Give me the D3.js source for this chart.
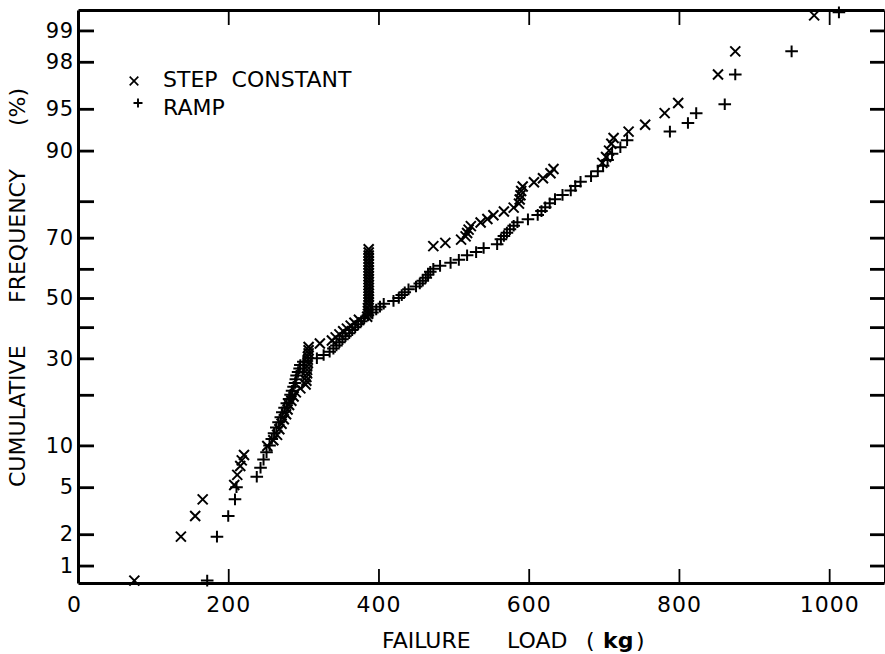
<!DOCTYPE html>
<html><head><meta charset="utf-8">
<script src="https://cdn.jsdelivr.net/npm/d3@7"></script>
<style>
html,body{margin:0;padding:0;background:#fff;}
svg{display:block;}
text{font-family:"DejaVu Sans",sans-serif;fill:#000;}
</style></head>
<body><svg id="chart" width="885" height="654"></svg>
<script>
// ---- data ----
const stepPct = [0.7,1.9,2.9,4.0,5.2,6.2,7.2,7.9,8.6,9.9,10.8,11.7,12.7,13.7,14.6,15.6,16.6,17.6,18.6,19.6,20.6,21.6,22.6,23.6,24.6,25.6,26.6,27.6,28.6,29.6,30.5,31.5,32.5,33.5,34.6,35.6,36.6,37.6,38.6,39.5,40.5,41.5,42.5,43.5,44.5,45.5,46.5,47.5,48.5,49.5,50.5,51.5,52.5,53.5,54.5,55.5,56.5,57.5,58.5,59.5,60.5,61.5,62.4,63.4,64.4,65.4,66.4,67.4,68.4,69.4,70.4,71.4,72.4,73.4,74.4,75.4,76.4,77.4,78.4,79.4,80.4,81.4,82.4,83.4,84.3,85.1,86.1,86.9,88.0,89.0,90.0,91.0,91.8,92.6,93.4,94.6,95.5,97.4,98.4,99.3];
const stepLoad = [75,137,156,166,208,212,216,218,221,252,260,265,268,271,274,277,279,281,284,287,290,296,303,304,304,305,305,305,306,306,306,307,307,307,322,338,343,348,353,358,363,368,374,385,386,386,386,387,387,387,387,387,387,387,387,387,387,387,387,387,387,387,387,387,387,387,387,473,489,510,516,518,520,523,536,545,553,567,580,587,588,589,590,592,607,619,629,633,698,703,707,710,713,733,755,781,799,852,875,980];
const rampPct = [0.7,1.9,2.9,4.0,5.0,6.0,7.0,8.0,9.0,10,11,12,13,14,15,16,17,18,19,20,21,22,23,24,25,26,27,28,29,30,31,32,33,34,35,36,37,38,39,40,41,42,43,44,45,46,47,48,49,50,51,52,53,54,55,56,57,58,59,60,61,62,63,64.5,65.5,66.8,68,69.5,70.5,71.5,72.5,73.5,74.5,75.3,76.5,77.5,78.5,79.5,80.5,81.5,82.5,83.5,84.4,85.5,86.5,87.5,88.5,89.5,90.5,91.5,92.6,93.6,94.6,95.4,97.4,98.4,99.35];
const rampLoad = [172,185,200,209,211,238,243,247,251,255,258,261,264,267,270,272,275,278,281,283,285,287,289,290,291,293,295,296,300,318,327,335,340,344,348,352,356,361,365,369,373,377,381,386,392,397,402,407,420,427,431,435,440,450,455,459,463,466,469,473,482,496,507,518,530,540,558,563,567,571,575,580,585,599,612,617,622,628,635,645,656,662,669,683,692,699,705,711,722,731,788,812,823,861,875,950,1013];

const xTicks = [0,200,400,600,800,1000];
const yTicks = [1,2,5,10,20,30,40,50,60,70,80,90,95,98,99];
const yLabeled = [1,2,5,10,30,50,70,90,95,98,99];
const seriesNames = ["STEP  CONSTANT","RAMP"];

// ---- probability-scale helper (inverse normal CDF, Acklam) ----
function probit(p){
  const a=[-39.69683028665376,220.9460984245205,-275.9285104469687,138.3577518672690,-30.66479806614716,2.506628277459239];
  const b=[-54.47609879822406,161.5858368580409,-155.6989798598866,66.80131188771972,-13.28068155288572];
  const c=[-0.007784894002430293,-0.3223964580411365,-2.400758277161838,-2.549732539343734,4.374664141464968,2.938163982698783];
  const d=[0.007784695709041462,0.3224671290700398,2.445134137142996,3.754408661907416];
  const pl=0.02425;
  let q,r;
  if(p<pl){q=Math.sqrt(-2*Math.log(p));return (((((c[0]*q+c[1])*q+c[2])*q+c[3])*q+c[4])*q+c[5])/((((d[0]*q+d[1])*q+d[2])*q+d[3])*q+1);}
  if(p<=1-pl){q=p-0.5;r=q*q;return (((((a[0]*r+a[1])*r+a[2])*r+a[3])*r+a[4])*r+a[5])*q/(((((b[0]*r+b[1])*r+b[2])*r+b[3])*r+b[4])*r+1);}
  q=Math.sqrt(-2*Math.log(1-p));return -(((((c[0]*q+c[1])*q+c[2])*q+c[3])*q+c[4])*q+c[5])/((((d[0]*q+d[1])*q+d[2])*q+d[3])*q+1);
}

const L=78, R=884, T=10, B=583;
const svg = d3.select("#chart");
svg.append("rect").attr("width",885).attr("height",654).attr("fill","#fff");

const x = d3.scaleLinear().domain([0,1073]).range([L,R]);
const yz = d3.scaleLinear().domain([-2.478,2.504]).range([B,T]);
const yOf = p => yz(probit(p/100));

// ---- axes ----
const zTicks = yTicks.map(p=>probit(p/100));
const fmtY = (z,i) => yLabeled.includes(yTicks[i]) ? String(yTicks[i]) : "";

const gl = svg.append("g").attr("transform",`translate(${L},0)`)
  .call(d3.axisLeft(yz).tickValues(zTicks).tickFormat(fmtY).tickSize(-16).tickSizeOuter(0).tickPadding(4));
gl.select(".domain").attr("stroke-width",3).attr("stroke","#000");
gl.selectAll(".tick line").attr("stroke-width",2.8).attr("stroke","#000");
gl.selectAll(".tick text").attr("font-size",21).attr("letter-spacing",0.8).attr("font-family","DejaVu Sans").attr("fill","#000");

const gr = svg.append("g").attr("transform",`translate(${R},0)`)
  .call(d3.axisRight(yz).tickValues(zTicks).tickFormat("").tickSize(-14).tickSizeOuter(0));
gr.select(".domain").attr("stroke-width",1).attr("stroke","#000");
gr.selectAll(".tick line").attr("stroke-width",2.8).attr("stroke","#000");

const gb = svg.append("g").attr("transform",`translate(0,${B})`)
  .call(d3.axisBottom(x).tickValues(xTicks).tickFormat(d3.format("d")).tickSize(-14).tickSizeOuter(0).tickPadding(13));
gb.select(".domain").attr("stroke-width",3).attr("stroke","#000");
gb.selectAll(".tick line").attr("stroke-width",1.8).attr("stroke","#000");
gb.selectAll(".tick text").attr("font-size",22).attr("letter-spacing",1).attr("font-family","DejaVu Sans").attr("fill","#000");
gb.selectAll(".tick").filter(d=>d===0).select("line").remove();
gb.selectAll(".tick").filter(d=>d===0).select("text").attr("dx",-4);

const gt = svg.append("g").attr("transform",`translate(0,${T})`)
  .call(d3.axisTop(x).tickValues(xTicks.filter(v=>v>0)).tickFormat("").tickSize(-15).tickSizeOuter(0));
gt.select(".domain").attr("stroke-width",3).attr("stroke","#000");
gt.selectAll(".tick line").attr("stroke-width",1.8).attr("stroke","#000");

// ---- markers ----
const crossX = (cx,cy,h) => `M${cx-h},${cy-h}L${cx+h},${cy+h}M${cx-h},${cy+h}L${cx+h},${cy-h}`;
const plus = (cx,cy,w,h) => `M${cx-w},${cy}L${cx+w},${cy}M${cx},${cy-h}L${cx},${cy+h}`;

const stepData = stepLoad.map((v,i)=>({load:v,pct:stepPct[i]}));
const rampData = rampLoad.map((v,i)=>({load:v,pct:rampPct[i]}));

svg.append("g").selectAll("path").data(rampData).join("path")
  .attr("d",d=>plus(x(d.load),yOf(d.pct),6.3,5.8))
  .attr("stroke","#000").attr("stroke-width",2).attr("fill","none");
svg.append("g").selectAll("path").data(stepData).join("path")
  .attr("d",d=>crossX(x(d.load),yOf(d.pct),5))
  .attr("stroke","#000").attr("stroke-width",2).attr("fill","none");

// ---- legend ----
const lg = svg.append("g");
lg.append("path").attr("d",crossX(134,81,4.3)).attr("stroke","#000").attr("stroke-width",1.7).attr("fill","none");
lg.append("path").attr("d",plus(138,103,4.5,4.5)).attr("stroke","#000").attr("stroke-width",1.9).attr("fill","none");
lg.append("text").attr("x",163).attr("y",87).attr("font-size",22).attr("xml:space","preserve").text(seriesNames[0]);
lg.append("text").attr("x",163).attr("y",115).attr("font-size",22).text(seriesNames[1]);

// ---- axis titles ----
const xt = [["FAILURE",382],["LOAD",507],["(",586],["kg",603],[")",636]];
xt.forEach(([t,px])=>{
  svg.append("text").attr("x",px).attr("y",648).attr("font-size",22)
    .attr("font-weight", t==="kg" ? "bold" : "normal").text(t);
});
const yt = [["CUMULATIVE",487],["FREQUENCY",303],["(%)",126]];
yt.forEach(([t,py])=>{
  svg.append("text").attr("transform",`translate(25,${py}) rotate(-90)`).attr("font-size",22).text(t);
});
</script></body></html>
